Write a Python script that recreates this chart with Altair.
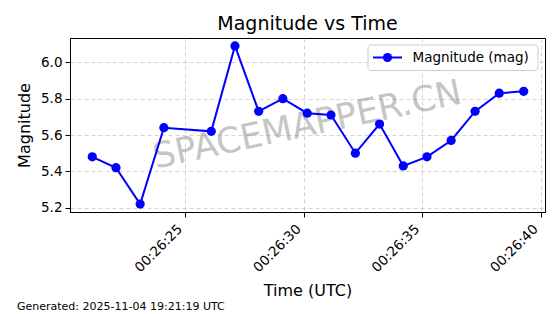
import altair as alt
import pandas as pd

# ---- data ----
times = [
    "2025-11-04T00:26:21.080Z", "2025-11-04T00:26:22.080Z", "2025-11-04T00:26:23.100Z",
    "2025-11-04T00:26:24.100Z", "2025-11-04T00:26:26.100Z", "2025-11-04T00:26:27.100Z",
    "2025-11-04T00:26:28.100Z", "2025-11-04T00:26:29.120Z", "2025-11-04T00:26:30.150Z",
    "2025-11-04T00:26:31.150Z", "2025-11-04T00:26:32.180Z", "2025-11-04T00:26:33.200Z",
    "2025-11-04T00:26:34.200Z", "2025-11-04T00:26:35.200Z", "2025-11-04T00:26:36.220Z",
    "2025-11-04T00:26:37.230Z", "2025-11-04T00:26:38.250Z", "2025-11-04T00:26:39.280Z",
]
magnitudes = [5.48, 5.42, 5.22, 5.64, 5.62, 6.09, 5.73, 5.80, 5.72,
              5.71, 5.50, 5.66, 5.43, 5.48, 5.57, 5.73, 5.83, 5.84]
y_ticks = [5.2, 5.4, 5.6, 5.8, 6.0]
x_tick_seconds = [25, 30, 35, 40]

title_text = "Magnitude vs Time"
x_title = "Time (UTC)"
y_title = "Magnitude"
legend_label = "Magnitude (mag)"
footer_text = "Generated: 2025-11-04 19:21:19 UTC"
watermark_text = "SPACEMAPPER.CN"

FONT = "DejaVu Sans"
BLUE = "#0000ff"
W, H = 475, 174

df = pd.DataFrame({"time": times, "mag": magnitudes})


def dt(sec, ms=0):
    return alt.DateTime(year=2025, month=11, date=4, hours=0, minutes=26,
                        seconds=sec, milliseconds=ms, utc=True)


x_enc = alt.X(
    "time:T",
    scale=alt.Scale(type="utc", domain=[dt(20, 140), dt(40, 180)]),
    axis=alt.Axis(
        values=[dt(s) for s in x_tick_seconds],
        labelExpr="utcFormat(datum.value, '%H:%M:%S')",
        labelAngle=315, labelAlign="right", labelBaseline="alphabetic",
        labelPadding=12.5, labelOffset=-2.5,
        title=x_title, titleY=83, titleBaseline="alphabetic",
    ),
)
y_enc = alt.Y(
    "mag:Q",
    scale=alt.Scale(domain=[5.1765, 6.1335], nice=False, zero=False),
    axis=alt.Axis(values=y_ticks, format=".1f", title=y_title, titlePadding=8,
                  labelPadding=3),
)

one = pd.DataFrame({"k": [0]})

title = alt.Chart(one).mark_text(
    text=title_text, font=FONT, fontSize=19, align="center", baseline="alphabetic",
    color="black",
).encode(x=alt.value(W / 2), y=alt.value(-8))

watermark = alt.Chart(one).mark_text(
    text=watermark_text, font=FONT, fontSize=35, angle=348,
    align="center", baseline="middle", color="gray", opacity=0.45,
).encode(x=alt.value(W / 2), y=alt.value(H / 2))

line = alt.Chart(df).mark_line(color=BLUE, strokeWidth=2).encode(x=x_enc, y=y_enc)
points = alt.Chart(df).mark_point(
    filled=True, color=BLUE, size=85, opacity=1
).encode(x="time:T", y="mag:Q")

legend_box = alt.Chart(one).mark_rect(
    fill="white", fillOpacity=0.8, stroke="#cccccc", strokeWidth=1, cornerRadius=3
).encode(x=alt.value(298), x2=alt.value(468), y=alt.value(7), y2=alt.value(32.5))
legend_line = alt.Chart(one).mark_rule(color=BLUE, strokeWidth=2).encode(
    x=alt.value(303), x2=alt.value(332), y=alt.value(19.5))
legend_pt = alt.Chart(one).mark_point(filled=True, color=BLUE, size=85, opacity=1).encode(
    x=alt.value(317.5), y=alt.value(19.5))
legend_txt = alt.Chart(one).mark_text(
    text=legend_label, font=FONT, fontSize=13.5, align="left", baseline="middle", color="black"
).encode(x=alt.value(342.5), y=alt.value(20))

footer = alt.Chart(one).mark_text(
    text=footer_text, font=FONT, fontSize=11, align="left", baseline="alphabetic", color="black"
).encode(x=alt.value(-53), y=alt.value(272))

chart = alt.layer(
    watermark, line, points, legend_box, legend_line, legend_pt, legend_txt, footer, title
).properties(
    width=W, height=H,
    autosize=alt.AutoSizeParams(type="none"),
    padding={"left": 70, "top": 38, "right": 15, "bottom": 102},
).configure_view(
    stroke="black", strokeWidth=1
).configure_axis(
    labelFont=FONT, titleFont=FONT, labelFontSize=13.5, titleFontSize=16,
    titleFontWeight="normal", labelColor="black", titleColor="black",
    domainColor="black", tickColor="black", tickSize=5,
    gridColor="#b0b0b0", gridOpacity=0.7, gridDash=[4, 3], gridWidth=0.8,
)

chart.save("out.html", embed_options={"renderer": "svg", "actions": False})
